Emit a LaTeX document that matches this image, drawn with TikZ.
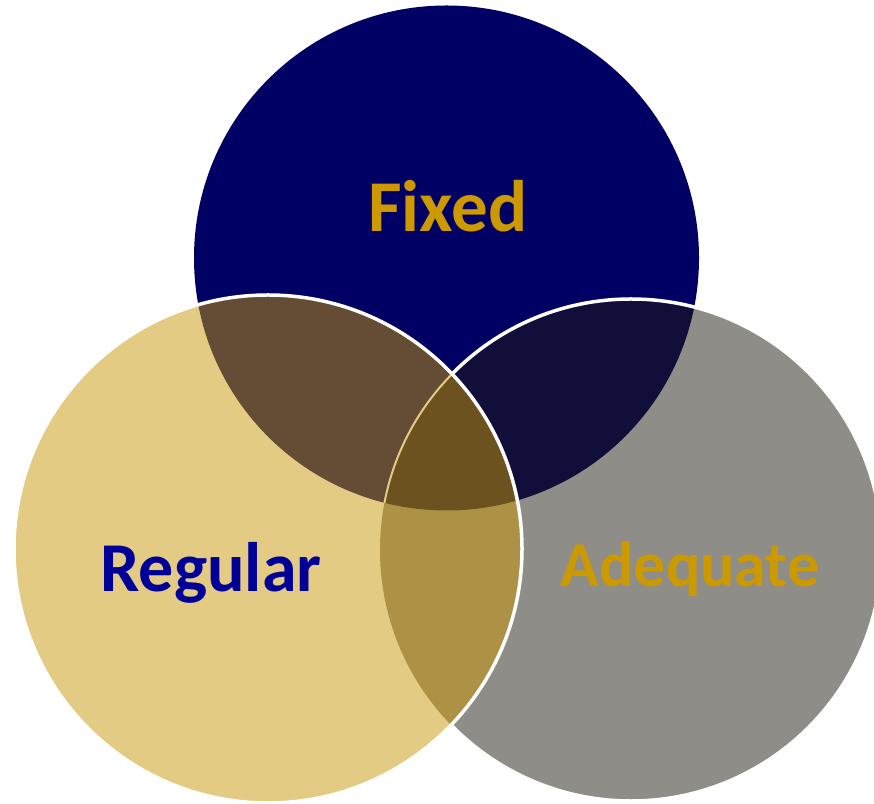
\documentclass[tikz,border=0pt]{standalone}
\usepackage{fontspec}
\setmainfont{Carlito}
\usepackage{tikz}

\definecolor{navy}{RGB}{0,0,100}
\definecolor{midnight}{RGB}{17,14,58}
\definecolor{stone}{RGB}{142,141,135}
\definecolor{sand}{RGB}{228,203,131}
\definecolor{umber}{RGB}{101,76,52}
\definecolor{ochre}{RGB}{173,146,70}
\definecolor{olive}{RGB}{107,82,30}
\definecolor{gold}{RGB}{204,153,0}
\definecolor{royal}{RGB}{0,0,153}

\tikzset{setname/.style={inner sep=0pt, anchor=base, font=\bfseries}}

\begin{document}
\begin{tikzpicture}[x=1pt, y=1pt]
        \useasboundingbox (0, 0) rectangle (874, 803);

        \coordinate (T) at (446.5, 545);
        \coordinate (L) at (268, 254);
        \coordinate (R) at (631, 253);

        \fill [navy] (T) circle [radius=252.5pt];
        \fill [stone] (R) circle [radius=251pt];
        \begin{scope}
            \clip (T) circle [radius=252.5pt];
            \fill [midnight] (R) circle [radius=251pt];
        \end{scope}
        \draw [white, line width=3.5pt] (R) circle [radius=251pt];

        \fill [sand] (L) circle [radius=254pt];
        \begin{scope}
            \clip (L) circle [radius=254pt];
            \fill [umber] (T) circle [radius=252.5pt];
            \fill [ochre] (R) circle [radius=251pt];
            \clip (T) circle [radius=252.5pt];
            \fill [olive] (R) circle [radius=251pt];
            \draw [sand, line width=2pt] (R) circle [radius=251pt];
        \end{scope}
        \draw [white, line width=3.5pt] (L) circle [radius=254pt];

        \node [setname, text=gold] (fixed) at (448, 571.3) {\fontsize{73}{73}\selectfont Fixed};
        \node [setname, text=royal] (regular) at (211, 211.3) {\fontsize{70}{70}\selectfont Regular};
        \node [setname, text=gold] (adequate) at (690, 216.3) {\fontsize{64}{64}\selectfont Adequate};
    \end{tikzpicture}
\end{document}
